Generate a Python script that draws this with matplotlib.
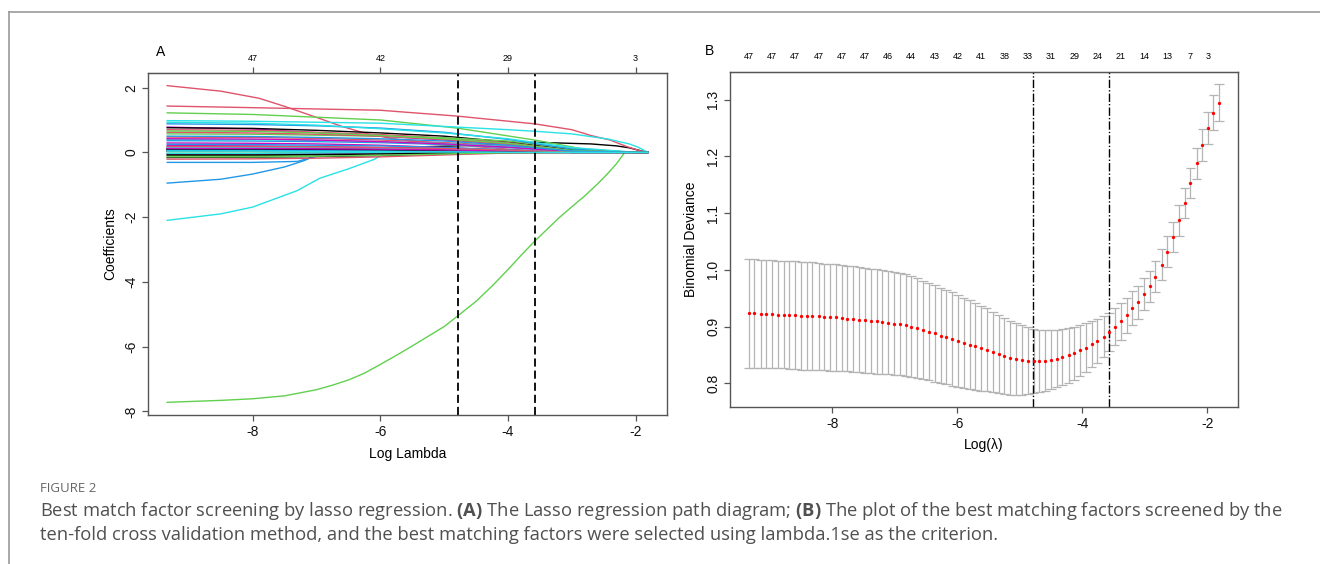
import numpy as np
import matplotlib
matplotlib.use("Agg")
import matplotlib.pyplot as plt
from matplotlib.lines import Line2D

plt.rcParams["font.family"] = ["Liberation Sans", "DejaVu Sans"]
plt.rcParams["axes.unicode_minus"] = False
plt.rcParams["mathtext.fontset"] = "custom"
plt.rcParams["mathtext.rm"] = "Open Sans"
plt.rcParams["mathtext.bf"] = "Open Sans:bold"

# R 4.x default palette, used in turn by matplot for the coefficient paths
palette = ["#000000", "#DF536B", "#61D04F", "#2297E6", "#28E2E5", "#CD0BBC"]

# ---- panel A: lasso coefficient paths ----
lambda_min = -4.79
lambda_1se = -3.58
a_top_at = [-8, -6, -4, -2]
a_top_labels = ["47", "42", "29", "3"]

# paths that stand out, (log lambda, coefficient)
black_surv_x = [-9.34, -8.0, -6.0, -4.8, -4.0, -3.57, -2.7, -2.3, -2.1, -1.92, -1.81]
black_surv_y = [0.12, 0.12, 0.14, 0.20, 0.29, 0.31, 0.26, 0.20, 0.14, 0.05, 0.0]
red_top_x = [-9.34, -8.5, -7.9, -7.5, -7.0, -6.6, -6.2, -5.8, -5.2, -4.8, -4.0, -3.6, -3.3, -1.81]
red_top_y = [2.06, 1.89, 1.67, 1.42, 1.08, 0.80, 0.57, 0.42, 0.30, 0.22, 0.10, 0.05, 0.0, 0.0]
green_big_x = [-9.34, -8.5, -8.0, -7.5, -7.0, -6.75, -6.5, -6.25, -6.0, -5.75, -5.5, -5.25, -5.0,
               -4.8, -4.5, -4.25, -4.0, -3.8, -3.58, -3.4, -3.2, -3.0, -2.8, -2.6, -2.45,
               -2.3, -2.17, -1.81]
green_big_y = [-7.72, -7.66, -7.61, -7.52, -7.33, -7.19, -7.03, -6.82, -6.55, -6.27, -5.98, -5.68,
               -5.38, -5.07, -4.60, -4.13, -3.62, -3.19, -2.74, -2.40, -2.02, -1.68, -1.35, -0.98,
               -0.68, -0.35, 0.0, 0.0]
blue_neg_x = [-9.34, -8.5, -8.0, -7.5, -7.2, -6.9, -1.81]
blue_neg_y = [-0.95, -0.83, -0.67, -0.45, -0.26, 0.0, 0.0]
cyan_neg_x = [-9.34, -8.5, -8.0, -7.3, -6.95, -6.5, -6.1, -5.9, -1.81]
cyan_neg_y = [-2.10, -1.90, -1.69, -1.18, -0.80, -0.51, -0.22, 0.0, 0.0]
magenta_x = [-9.34, -8.0, -6.0, -4.8, -4.0, -3.57, -3.2, -1.81]
magenta_y = [0.78, 0.72, 0.50, 0.36, 0.26, 0.15, 0.0, 0.0]
red_mid_x = [-9.34, -8.0, -6.0, -4.8, -3.58, -3.0, -2.7, -2.4, -2.14, -1.95, -1.81]
red_mid_y = [1.43, 1.38, 1.30, 1.12, 0.88, 0.70, 0.52, 0.38, 0.18, 0.06, 0.0]
green_top_x = [-9.34, -8.0, -6.0, -4.8, -3.58, -3.0, -2.6, -1.81]
green_top_y = [1.22, 1.17, 1.00, 0.75, 0.38, 0.17, 0.0, 0.0]
blue_small_x = [-9.34, -8.0, -7.3, -7.0, -6.8, -1.81]
blue_small_y = [-0.31, -0.31, -0.28, -0.12, 0.0, 0.0]
cyan_top_x = [-9.34, -8.0, -6.0, -4.8, -4.0, -3.57, -3.0, -2.43, -2.1, -1.96, -1.81]
cyan_top_y = [0.98, 0.96, 0.90, 0.78, 0.70, 0.65, 0.57, 0.41, 0.26, 0.16, 0.0]

# the remaining small coefficients, read at these log lambda values
small_knots = [-9.34, -8.0, -7.0, -6.0, -5.0, -4.0, -3.0, -2.0, -1.81]
small_coefs = [
    [0.05, 0.05, 0.04, 0.02, 0, 0, 0, 0, 0],
    [0.21, 0.20, 0.18, 0.15, 0.10, 0.04, 0, 0, 0],
    [0.76, 0.74, 0.68, 0.60, 0.50, 0.32, 0.08, 0, 0],
    [0.70, 0.68, 0.62, 0.55, 0.45, 0.30, 0.05, 0, 0],
    [0.57, 0.56, 0.53, 0.50, 0.45, 0.35, 0.12, 0, 0],
    [0.88, 0.86, 0.82, 0.75, 0.62, 0.40, 0.10, 0, 0],
    [0.93, 0.90, 0.84, 0.73, 0.60, 0.42, 0.15, 0, 0],
    [0.10, 0.09, 0.08, 0.06, 0.03, 0, 0, 0, 0],
    [-0.16, -0.15, -0.13, -0.10, -0.05, 0, 0, 0, 0],
    [0.47, 0.46, 0.43, 0.38, 0.30, 0.20, 0.05, 0, 0],
    [-0.10, -0.10, -0.08, -0.04, 0, 0, 0, 0, 0],
    [0.36, 0.35, 0.33, 0.30, 0.24, 0.15, 0.02, 0, 0],
    [0.05, 0.05, 0.03, 0, 0, 0, 0, 0, 0],
    [0.29, 0.28, 0.26, 0.22, 0.15, 0.06, 0, 0, 0],
    [0.03, 0.03, 0.02, 0.01, 0, 0, 0, 0, 0],
    [-0.21, -0.20, -0.18, -0.14, -0.08, -0.02, 0, 0, 0],
    [0.16, 0.16, 0.15, 0.13, 0.10, 0.05, 0, 0, 0],
    [-0.05, -0.04, -0.02, 0, 0, 0, 0, 0, 0],
    [0.40, 0.39, 0.37, 0.33, 0.27, 0.18, 0.03, 0, 0],
    [-0.05, -0.05, -0.04, -0.02, 0, 0, 0, 0, 0],
    [0.10, 0.10, 0.10, 0.09, 0.07, 0.04, 0, 0, 0],
    [0.62, 0.60, 0.56, 0.50, 0.40, 0.25, 0.04, 0, 0],
    [0.02, 0.02, 0.01, 0, 0, 0, 0, 0, 0],
    [0.25, 0.24, 0.22, 0.20, 0.15, 0.08, 0, 0, 0],
    [-0.03, -0.03, -0.02, -0.01, 0, 0, 0, 0, 0],
    [0.42, 0.41, 0.38, 0.33, 0.26, 0.16, 0.02, 0, 0],
    [0.08, 0.08, 0.07, 0.06, 0.03, 0, 0, 0, 0],
    [0.05, 0.05, 0.04, 0.03, 0.01, 0, 0, 0, 0],
    [0.66, 0.65, 0.60, 0.52, 0.42, 0.28, 0.06, 0, 0],
    [0.06, 0.06, 0.05, 0.04, 0.02, 0, 0, 0, 0],
    [0.15, 0.15, 0.14, 0.12, 0.09, 0.05, 0, 0, 0],
    [0.12, 0.12, 0.11, 0.10, 0.08, 0.04, 0, 0, 0],
    [-0.08, -0.08, -0.07, -0.05, -0.02, 0, 0, 0, 0],
    [0.18, 0.18, 0.17, 0.15, 0.12, 0.07, 0.01, 0, 0],
    [-0.14, -0.14, -0.12, -0.09, -0.05, -0.01, 0, 0, 0],
    [0.50, 0.49, 0.46, 0.42, 0.35, 0.22, 0.04, 0, 0],
    [0.04, 0.04, 0.03, 0.02, 0.01, 0, 0, 0, 0],
]

# ---- panel B: 10-fold cross validation ----
log_lambda = [
    -9.34, -9.25, -9.15, -9.06, -8.97, -8.88, -8.78, -8.69, -8.60, -8.50,
    -8.41, -8.32, -8.22, -8.13, -8.04, -7.95, -7.85, -7.76, -7.67, -7.57,
    -7.48, -7.39, -7.29, -7.20, -7.11, -7.01, -6.92, -6.83, -6.74, -6.64,
    -6.55, -6.46, -6.36, -6.27, -6.18, -6.08, -5.99, -5.90, -5.80, -5.71,
    -5.62, -5.53, -5.43, -5.34, -5.25, -5.15, -5.06, -4.97, -4.87, -4.78,
    -4.69, -4.59, -4.50, -4.41, -4.32, -4.22, -4.13, -4.04, -3.94, -3.85,
    -3.76, -3.66, -3.57, -3.48, -3.38, -3.29, -3.20, -3.11, -3.01, -2.92,
    -2.83, -2.73, -2.64, -2.55, -2.45, -2.36, -2.27, -2.17, -2.08, -1.99,
    -1.90, -1.81,
]
cv_mean = [
    0.923, 0.923, 0.922, 0.922, 0.922, 0.921, 0.921, 0.920, 0.920, 0.919,
    0.919, 0.918, 0.918, 0.917, 0.916, 0.916, 0.915, 0.914, 0.913, 0.912,
    0.911, 0.910, 0.909, 0.908, 0.907, 0.905, 0.904, 0.902, 0.900, 0.897,
    0.894, 0.891, 0.888, 0.884, 0.881, 0.878, 0.875, 0.871, 0.868, 0.865,
    0.862, 0.859, 0.855, 0.852, 0.848, 0.845, 0.843, 0.841, 0.840, 0.839,
    0.839, 0.840, 0.841, 0.843, 0.846, 0.849, 0.853, 0.858, 0.863, 0.869,
    0.875, 0.882, 0.890, 0.900, 0.909, 0.920, 0.932, 0.943, 0.957, 0.971,
    0.988, 1.009, 1.032, 1.058, 1.087, 1.118, 1.153, 1.188, 1.220, 1.250,
    1.277, 1.295,
]
cv_sd = [
    0.096, 0.096, 0.096, 0.096, 0.096, 0.095, 0.095, 0.095, 0.095, 0.095,
    0.095, 0.095, 0.094, 0.094, 0.094, 0.094, 0.094, 0.093, 0.093, 0.093,
    0.093, 0.092, 0.092, 0.092, 0.091, 0.091, 0.090, 0.090, 0.089, 0.088,
    0.087, 0.086, 0.085, 0.084, 0.083, 0.082, 0.081, 0.080, 0.078, 0.077,
    0.075, 0.073, 0.071, 0.069, 0.067, 0.065, 0.063, 0.061, 0.059, 0.057,
    0.055, 0.053, 0.052, 0.050, 0.049, 0.048, 0.047, 0.045, 0.043, 0.041,
    0.039, 0.036, 0.034, 0.033, 0.032, 0.031, 0.030, 0.029, 0.028, 0.027,
    0.027, 0.027, 0.027, 0.027, 0.027, 0.027, 0.027, 0.027, 0.028, 0.029,
    0.031, 0.032,
]
b_top_idx = [0, 4, 8, 12, 16, 20, 24, 28, 32, 36, 40, 44, 48, 52, 56, 60, 64, 68, 72, 76, 79]
b_top_labels = ["47", "47", "47", "47", "47", "47", "46", "44", "43", "42", "41",
                "38", "33", "31", "29", "24", "21", "14", "13", "7", "3"]

caption_title = "FIGURE 2"
caption_1 = (r"Best match factor screening by lasso regression. $\mathbf{(A)}$ The Lasso regression "
             r"path diagram; $\mathbf{(B)}$ The plot of the best matching factors screened by the")
caption_2 = ("ten-fold cross validation method, and the best matching factors were selected "
             "using lambda.1se as the criterion.")

assert len(log_lambda) == len(cv_mean) == len(cv_sd)

SPINE = "#555555"


def style_axes(ax):
    for sp in ax.spines.values():
        sp.set_color(SPINE)
        sp.set_linewidth(1.0)
    ax.tick_params(length=4.5, width=0.9, color=SPINE, labelsize=10, pad=2.5,
                   labelcolor="#111111")
    ax.tick_params(axis="y", labelrotation=90)
    for lab in ax.get_yticklabels():
        lab.set_va("center")


fig = plt.figure(figsize=(13.2, 5.64), dpi=100)

# ---------- A ----------
axA = fig.add_axes([0.1121, 0.2642, 0.3932, 0.6064])
special = {
    0: (black_surv_x, black_surv_y),
    1: (red_top_x, red_top_y),
    2: (green_big_x, green_big_y),
    3: (blue_neg_x, blue_neg_y),
    4: (cyan_neg_x, cyan_neg_y),
    5: (magenta_x, magenta_y),
    7: (red_mid_x, red_mid_y),
    8: (green_top_x, green_top_y),
    9: (blue_small_x, blue_small_y),
    10: (cyan_top_x, cyan_top_y),
}
n_vars = len(special) + len(small_coefs)
rows = iter(small_coefs)
for i in range(n_vars):
    if i in special:
        xs, ys = special[i]
    else:
        xs, ys = small_knots, next(rows)
    axA.plot(xs, ys, color=palette[i % 6], lw=1.0, solid_joinstyle="round")

axA.margins(x=0.04, y=0.04)
for v in (lambda_min, lambda_1se):
    axA.axvline(v, color="black", lw=1.3, ls=(0, (4.5, 2.2)))
axA.set_xticks([-8, -6, -4, -2])
axA.set_yticks([-8, -6, -4, -2, 0, 2])
style_axes(axA)
axA.set_xlabel("Log Lambda", fontsize=10, labelpad=6)
axA.set_ylabel("Coefficients", fontsize=10, labelpad=5)

secA = axA.secondary_xaxis("top")
secA.set_xticks(a_top_at, labels=a_top_labels)
secA.tick_params(length=4.5, width=0.9, color=SPINE, labelsize=6.5, pad=3)
secA.spines["top"].set_color(SPINE)

fig.text(161 / 1320, 1 - 52 / 564, "A", fontsize=10, ha="center", va="center")

# ---------- B ----------
axB = fig.add_axes([0.5530, 0.2784, 0.3848, 0.5940])
x = np.array(log_lambda)
m = np.array(cv_mean)
sd = np.array(cv_sd)
upper, lower = m + sd, m - sd
cap = 0.075
bar_col = "#b4b4b4"
axB.vlines(x, lower, upper, color=bar_col, lw=0.9)
axB.hlines(upper, x - cap, x + cap, color=bar_col, lw=0.9)
axB.hlines(lower, x - cap, x + cap, color=bar_col, lw=0.9)
axB.plot(x, m, "o", color="red", ms=2.4, mec="none", zorder=3)
for v in (lambda_min, lambda_1se):
    axB.axvline(v, color="black", lw=1.0, ls=(0, (6, 1.5, 1, 1.5)))

xr = x.max() - x.min()
yr = upper.max() - lower.min()
axB.set_xlim(x.min() - 0.04 * xr, x.max() + 0.04 * xr)
axB.set_ylim(lower.min() - 0.04 * yr, upper.max() + 0.04 * yr)
axB.set_xticks([-8, -6, -4, -2])
axB.set_yticks([0.8, 0.9, 1.0, 1.1, 1.2, 1.3])
axB.set_yticklabels(["0.8", "0.9", "1.0", "1.1", "1.2", "1.3"])
style_axes(axB)
axB.set_xlabel("Log(λ)", fontsize=10, labelpad=5)
axB.set_ylabel("Binomial Deviance", fontsize=10, labelpad=6)

secB = axB.secondary_xaxis("top")
secB.set_xticks([log_lambda[k] for k in b_top_idx], labels=b_top_labels)
secB.tick_params(length=0, labelsize=6.5, pad=8)
secB.spines["top"].set_color(SPINE)

fig.text(710 / 1320, 1 - 51 / 564, "B", fontsize=10, ha="center", va="center")

# ---------- caption and frame ----------
fig.text(40 / 1320, 1 - 488 / 564, caption_title, fontsize=9.5, color="#666666",
         family="Open Sans", va="center")
fig.text(40 / 1320, 1 - 511 / 564, caption_1, fontsize=13.2, color="#505050",
         family="Open Sans", va="center")
fig.text(40 / 1320, 1 - 535 / 564, caption_2, fontsize=13.2, color="#505050",
         family="Open Sans", va="center")

fig.add_artist(Line2D([9 / 1320, 1], [1 - 12 / 564, 1 - 12 / 564], color="#9a9a9a", lw=1.2))
fig.add_artist(Line2D([9 / 1320, 9 / 1320], [0, 1 - 12 / 564], color="#9a9a9a", lw=1.2))

fig.savefig("out.png", dpi=100)
